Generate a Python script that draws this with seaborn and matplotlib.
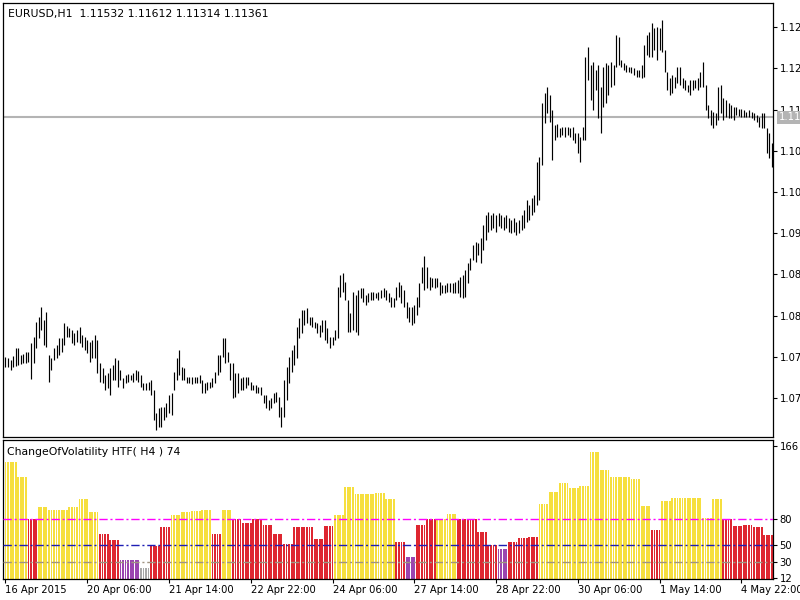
import numpy as np
import pandas as pd
import matplotlib
matplotlib.use("Agg")
import matplotlib.pyplot as plt
import matplotlib.transforms as mtransforms
import seaborn as sns

# EURUSD H1 bars (high / low), oldest first
bar_high = [
    1.0770, 1.0768, 1.0765, 1.0771, 1.0783, 1.0783, 1.0773, 1.0774, 1.0777, 1.0777,
    1.0791, 1.0800, 1.0823, 1.0831, 1.0846, 1.0826, 1.0838, 1.0773, 1.0768, 1.0783,
    1.0788, 1.0799, 1.0799, 1.0822, 1.0817, 1.0814, 1.0811, 1.0806, 1.0811, 1.0816,
    1.0803, 1.0800, 1.0796, 1.0793, 1.0796, 1.0803, 1.0796, 1.0760, 1.0753, 1.0742,
    1.0745, 1.0753, 1.0757, 1.0768, 1.0765, 1.0750, 1.0738, 1.0742, 1.0744, 1.0742,
    1.0745, 1.0750, 1.0748, 1.0742, 1.0730, 1.0730, 1.0731, 1.0735, 1.0719, 1.0684,
    1.0692, 1.0693, 1.0693, 1.0699, 1.0712, 1.0715, 1.0747, 1.0768, 1.0780, 1.0754,
    1.0753, 1.0739, 1.0739, 1.0739, 1.0739, 1.0739, 1.0742, 1.0735, 1.0730, 1.0731,
    1.0731, 1.0738, 1.0747, 1.0773, 1.0773, 1.0799, 1.0799, 1.0777, 1.0760, 1.0760,
    1.0745, 1.0745, 1.0738, 1.0739, 1.0739, 1.0739, 1.0731, 1.0727, 1.0727, 1.0724,
    1.0724, 1.0712, 1.0712, 1.0704, 1.0707, 1.0715, 1.0716, 1.0709, 1.0693, 1.0735,
    1.0754, 1.0770, 1.0780, 1.0788, 1.0816, 1.0829, 1.0842, 1.0842, 1.0845, 1.0831,
    1.0831, 1.0823, 1.0822, 1.0819, 1.0826, 1.0826, 1.0814, 1.0800, 1.0800, 1.0811,
    1.0877, 1.0895, 1.0898, 1.0884, 1.0857, 1.0837, 1.0869, 1.0864, 1.0872, 1.0875,
    1.0875, 1.0864, 1.0868, 1.0869, 1.0869, 1.0868, 1.0869, 1.0872, 1.0875, 1.0872,
    1.0868, 1.0861, 1.0860, 1.0877, 1.0884, 1.0880, 1.0872, 1.0854, 1.0846, 1.0846,
    1.0849, 1.0861, 1.0883, 1.0907, 1.0924, 1.0907, 1.0892, 1.0890, 1.0890, 1.0890,
    1.0884, 1.0880, 1.0880, 1.0883, 1.0883, 1.0883, 1.0884, 1.0887, 1.0892, 1.0895,
    1.0903, 1.0913, 1.0921, 1.0941, 1.0946, 1.0944, 1.0952, 1.0971, 1.0987, 1.0991,
    1.0987, 1.0990, 1.0987, 1.0990, 1.0987, 1.0984, 1.0987, 1.0982, 1.0979, 1.0982,
    1.0976, 1.0979, 1.0987, 1.0994, 1.1010, 1.1002, 1.1013, 1.1017, 1.1068, 1.1075,
    1.1158, 1.1173, 1.1182, 1.1170, 1.1147, 1.1124, 1.1126, 1.1120, 1.1121, 1.1121,
    1.1121, 1.1120, 1.1121, 1.1112, 1.1112, 1.1106, 1.1121, 1.1228, 1.1244, 1.1216,
    1.1221, 1.1208, 1.1216, 1.1182, 1.1213, 1.1219, 1.1216, 1.1221, 1.1216, 1.1262,
    1.1259, 1.1224, 1.1219, 1.1216, 1.1213, 1.1213, 1.1212, 1.1208, 1.1208, 1.1216,
    1.1247, 1.1262, 1.1267, 1.1280, 1.1273, 1.1274, 1.1273, 1.1285, 1.1239, 1.1205,
    1.1196, 1.1201, 1.1198, 1.1213, 1.1213, 1.1196, 1.1193, 1.1186, 1.1193, 1.1193,
    1.1193, 1.1196, 1.1205, 1.1221, 1.1186, 1.1155, 1.1147, 1.1144, 1.1143, 1.1182,
    1.1186, 1.1166, 1.1163, 1.1158, 1.1155, 1.1152, 1.1152, 1.1149, 1.1149, 1.1147,
    1.1144, 1.1147, 1.1144, 1.1143, 1.1140, 1.1137, 1.1143, 1.1143, 1.1120, 1.1112,
    1.1097,
]
bar_low = [
    1.0754, 1.0754, 1.0750, 1.0754, 1.0756, 1.0757, 1.0759, 1.0760, 1.0760, 1.0762,
    1.0736, 1.0760, 1.0783, 1.0799, 1.0811, 1.0788, 1.0785, 1.0731, 1.0750, 1.0765,
    1.0768, 1.0773, 1.0777, 1.0788, 1.0800, 1.0800, 1.0791, 1.0788, 1.0793, 1.0791,
    1.0785, 1.0780, 1.0776, 1.0762, 1.0768, 1.0768, 1.0745, 1.0731, 1.0730, 1.0719,
    1.0722, 1.0712, 1.0735, 1.0735, 1.0724, 1.0735, 1.0722, 1.0730, 1.0731, 1.0735,
    1.0731, 1.0735, 1.0731, 1.0724, 1.0719, 1.0719, 1.0719, 1.0712, 1.0673, 1.0658,
    1.0663, 1.0663, 1.0673, 1.0678, 1.0684, 1.0681, 1.0719, 1.0735, 1.0742, 1.0735,
    1.0735, 1.0730, 1.0730, 1.0728, 1.0730, 1.0730, 1.0730, 1.0715, 1.0715, 1.0719,
    1.0722, 1.0724, 1.0730, 1.0742, 1.0747, 1.0770, 1.0760, 1.0762, 1.0735, 1.0707,
    1.0709, 1.0715, 1.0719, 1.0719, 1.0722, 1.0727, 1.0719, 1.0719, 1.0715, 1.0715,
    1.0712, 1.0699, 1.0692, 1.0689, 1.0692, 1.0699, 1.0701, 1.0678, 1.0663, 1.0678,
    1.0704, 1.0730, 1.0747, 1.0757, 1.0768, 1.0799, 1.0806, 1.0819, 1.0822, 1.0819,
    1.0816, 1.0814, 1.0806, 1.0800, 1.0808, 1.0796, 1.0791, 1.0783, 1.0788, 1.0796,
    1.0799, 1.0861, 1.0869, 1.0857, 1.0808, 1.0808, 1.0811, 1.0808, 1.0803, 1.0860,
    1.0854, 1.0849, 1.0854, 1.0857, 1.0857, 1.0860, 1.0857, 1.0860, 1.0861, 1.0857,
    1.0854, 1.0846, 1.0846, 1.0857, 1.0861, 1.0852, 1.0846, 1.0829, 1.0823, 1.0819,
    1.0822, 1.0834, 1.0846, 1.0883, 1.0872, 1.0875, 1.0872, 1.0877, 1.0875, 1.0877,
    1.0864, 1.0868, 1.0868, 1.0869, 1.0869, 1.0868, 1.0868, 1.0868, 1.0861, 1.0860,
    1.0861, 1.0883, 1.0903, 1.0918, 1.0915, 1.0926, 1.0913, 1.0933, 1.0949, 1.0961,
    1.0964, 1.0967, 1.0961, 1.0970, 1.0967, 1.0964, 1.0967, 1.0961, 1.0959, 1.0961,
    1.0956, 1.0959, 1.0964, 1.0967, 1.0976, 1.0979, 1.0987, 1.0991, 1.1002, 1.1010,
    1.1063, 1.1127, 1.1143, 1.1129, 1.1071, 1.1101, 1.1106, 1.1106, 1.1109, 1.1106,
    1.1109, 1.1106, 1.1101, 1.1097, 1.1082, 1.1068, 1.1101, 1.1101, 1.1193, 1.1163,
    1.1147, 1.1178, 1.1135, 1.1112, 1.1152, 1.1158, 1.1170, 1.1182, 1.1186, 1.1213,
    1.1216, 1.1213, 1.1208, 1.1205, 1.1205, 1.1204, 1.1201, 1.1198, 1.1198, 1.1196,
    1.1198, 1.1231, 1.1228, 1.1228, 1.1239, 1.1224, 1.1239, 1.1236, 1.1205, 1.1178,
    1.1170, 1.1173, 1.1181, 1.1189, 1.1186, 1.1181, 1.1178, 1.1175, 1.1170, 1.1178,
    1.1181, 1.1178, 1.1182, 1.1182, 1.1147, 1.1135, 1.1124, 1.1120, 1.1124, 1.1132,
    1.1143, 1.1132, 1.1137, 1.1135, 1.1135, 1.1132, 1.1140, 1.1138, 1.1137, 1.1137,
    1.1137, 1.1137, 1.1135, 1.1132, 1.1129, 1.1121, 1.1120, 1.1120, 1.1082, 1.1074,
    1.1060,
]

# header OHLC and current price line
header_ohlc = ["1.11532", "1.11612", "1.11314", "1.11361"]
last_price = 1.11361

# ChangeOfVolatility HTF(H4): one value per H4 block (first block holds 5 H1 bars)
h4_value = [
    146.9, 130.0, 80.0, 94.3, 91.2, 91.2, 94.3, 104.5, 88.2, 62.6,
    55.5, 33.0, 33.0, 23.8, 49.4, 71.3, 85.1, 88.7, 90.2, 91.2,
    62.6, 91.2, 80.0, 75.9, 80.0, 73.9, 62.6, 51.4, 70.8, 70.8,
    57.5, 72.3, 85.1, 118.3, 109.6, 109.6, 110.6, 104.5, 53.5, 36.1,
    73.9, 80.0, 81.0, 86.1, 80.0, 80.0, 65.7, 50.4, 45.3, 53.5,
    58.6, 59.6, 98.4, 112.7, 122.9, 116.8, 119.3, 158.6, 138.2, 130.0,
    130.0, 127.0, 95.3, 67.7, 101.4, 105.5, 105.5, 105.5, 82.0, 104.5,
    80.0, 72.3, 73.9, 70.8, 61.6,
]
h4_zone = [
    "Y", "Y", "R", "Y", "Y", "Y", "Y", "Y", "Y", "R",
    "R", "P", "P", "G", "R", "R", "Y", "Y", "Y", "Y",
    "R", "Y", "R", "R", "R", "R", "R", "R", "R", "R",
    "R", "R", "Y", "Y", "Y", "Y", "Y", "Y", "R", "P",
    "R", "R", "Y", "Y", "R", "R", "R", "R", "P", "R",
    "R", "R", "Y", "Y", "Y", "Y", "Y", "Y", "Y", "Y",
    "Y", "Y", "Y", "R", "Y", "Y", "Y", "Y", "Y", "Y",
    "R", "R", "R", "R", "R",
]
zone_colours = {"Y": "#F6DF3E", "R": "#DE2630", "P": "#9A45B0", "G": "#A8A8A8"}

level_values = [80, 50, 30]
level_colours = ["#FF00FF", "#1E1EB4", "#A09482"]
vol_ticks = [12, 30, 50, 80, 166]

price_ticks = [1.07070, 1.07700, 1.08330, 1.08960, 1.09590,
               1.10220, 1.10850, 1.11480, 1.12110, 1.12740]

date_bars = [0, 32, 64, 96, 128, 160, 192, 224, 256, 288]
date_labels = ["16 Apr 2015", "20 Apr 06:00", "21 Apr 14:00", "22 Apr 22:00",
               "24 Apr 06:00", "27 Apr 14:00", "28 Apr 22:00", "30 Apr 06:00",
               "1 May 14:00", "4 May 22:00"]

sns.set_style("white", {"axes.edgecolor": "black", "xtick.color": "black",
                        "ytick.color": "black", "text.color": "black"})
plt.rcParams["font.family"] = ["DejaVu Sans"]
fs = 7.2

fig = plt.figure(figsize=(8, 6), dpi=100)
ax = fig.add_axes([0.0041, 0.2722, 0.9618, 0.7233])
axv = fig.add_axes([0.0041, 0.035, 0.9618, 0.2317], sharex=ax)

# price bars
n = len(bar_high)
idx = np.arange(n)
ax.axhline(last_price, color="#B4B4B4", lw=1.5, zorder=0)
ax.vlines(idx, bar_low, bar_high, color="black", lw=0.85)
ax.set_ylim(1.06478, 1.13114)
ax.yaxis.tick_right()
ax.set_yticks(price_ticks, labels=[f"{t:.5f}" for t in price_ticks])
ax.tick_params(axis="y", right=True, left=False, direction="out", length=3,
               width=0.8, pad=2, labelsize=fs)
ax.tick_params(axis="x", bottom=False, labelbottom=False)
ax.text(0.006, 0.974, "EURUSD,H1  " + " ".join(header_ohlc), transform=ax.transAxes,
        ha="left", va="center", fontsize=7.8)
trans = mtransforms.blended_transform_factory(ax.transAxes, ax.transData)
ax.text(1.008, last_price, f"{last_price:.5f}", transform=trans, ha="left", va="center",
        color="white", fontsize=fs,
        bbox=dict(facecolor="#B4B4B4", edgecolor="none", pad=1.2))

# volatility histogram
blocks = [5] + [4] * (len(h4_value) - 1)
df = pd.DataFrame({
    "bar": idx,
    "vol": np.repeat(h4_value, blocks),
    "zone": np.repeat(h4_zone, blocks),
})
sns.barplot(data=df, x="bar", y="vol", hue="zone", palette=zone_colours,
            native_scale=True, dodge=False, errorbar=None,
            saturation=1, legend=False, ax=axv)
# keep every H1 bar at a fixed width with a thin light gap
for p in axv.patches:
    mid = p.get_x() + p.get_width() / 2
    p.set_width(0.72)
    p.set_x(mid - 0.36)
    p.set_linewidth(0)
for v, c in zip(level_values, level_colours):
    axv.axhline(v, color=c, lw=1.0, ls=(0, (6, 2, 1.5, 2)), zorder=5)
axv.set_ylim(10.4, 173)
axv.set_xlabel("")
axv.set_ylabel("")
axv.yaxis.tick_right()
axv.set_yticks(vol_ticks, labels=[str(t) for t in vol_ticks])
axv.tick_params(axis="y", right=True, left=False, direction="out", length=3,
                width=0.8, pad=2, labelsize=fs)
axv.set_xticks(date_bars, labels=date_labels)
for lbl in axv.get_xticklabels():
    lbl.set_ha("left")
axv.tick_params(axis="x", bottom=True, direction="out", length=3, width=0.8,
                pad=1, labelsize=fs)
axv.text(0.005, 0.91, "ChangeOfVolatility HTF( H4 ) 74", transform=axv.transAxes,
         ha="left", va="center", fontsize=7.8)
axv.set_xlim(-0.86, 300.3)

for a in (ax, axv):
    for s in a.spines.values():
        s.set_color("black")
        s.set_linewidth(0.9)

fig.savefig("out.png", dpi=100, facecolor="white")
